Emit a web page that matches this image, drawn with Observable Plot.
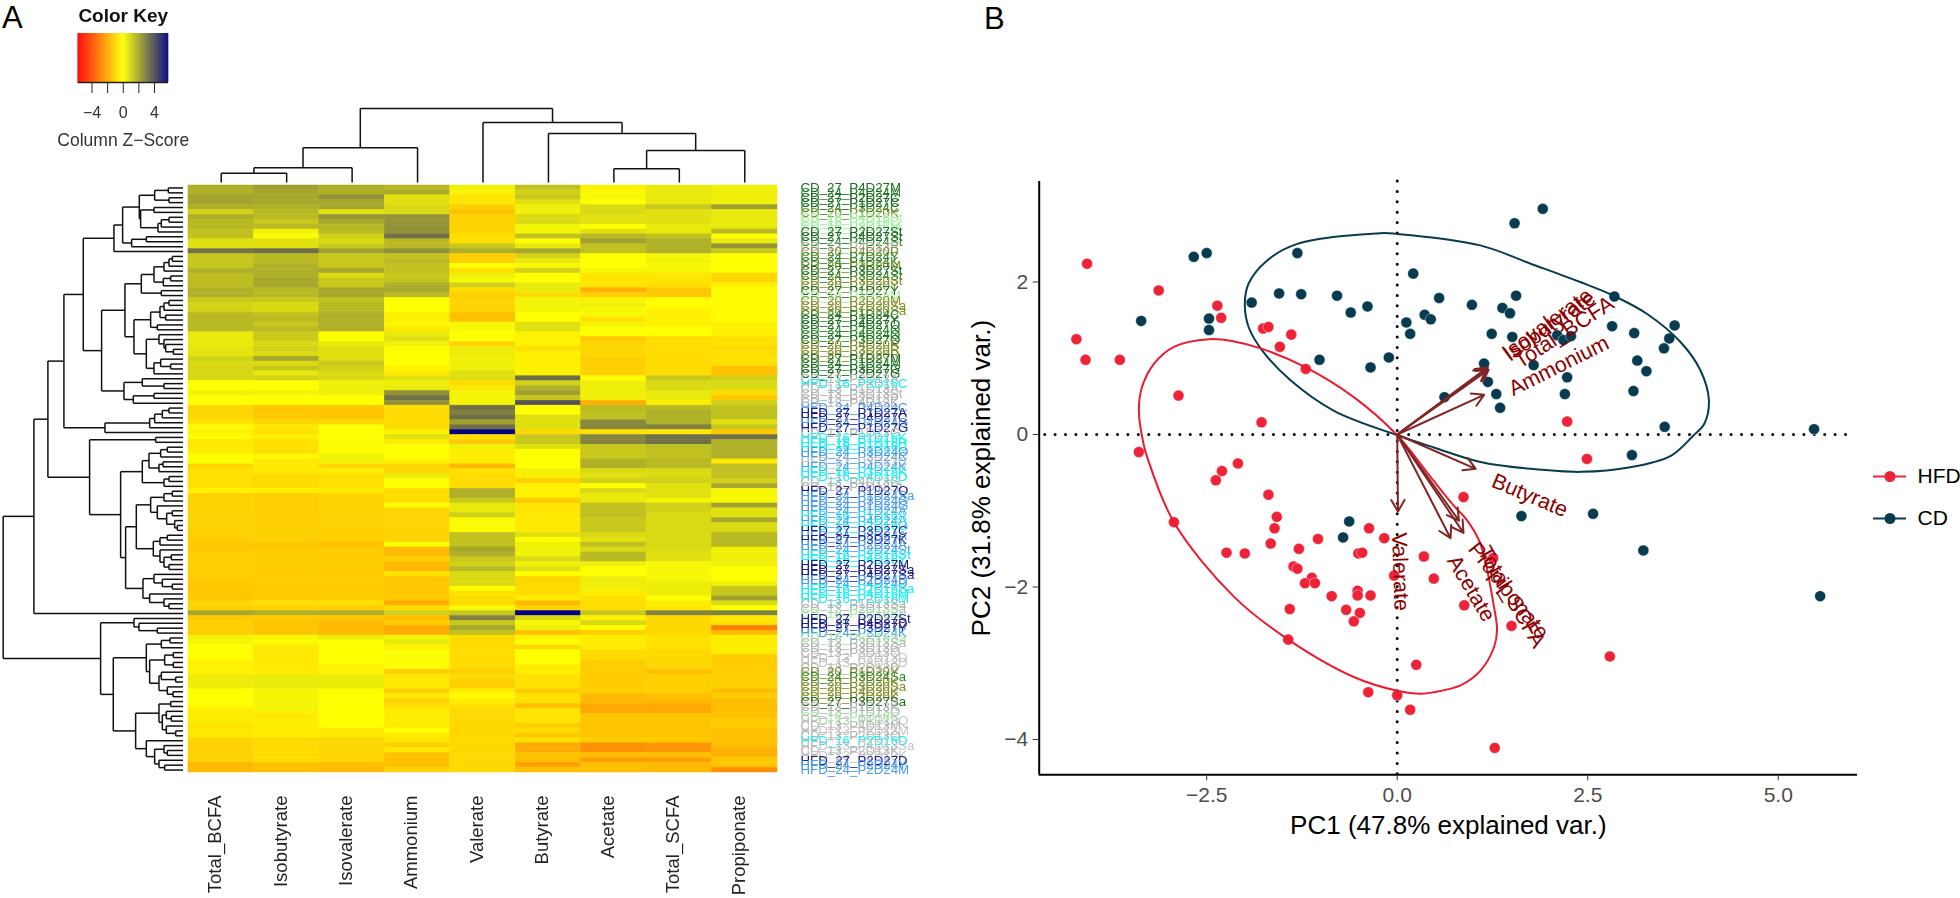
<!DOCTYPE html>
<html><head><meta charset="utf-8">
<script src="https://cdn.jsdelivr.net/npm/d3@7"></script>
<script src="https://cdn.jsdelivr.net/npm/@observablehq/plot@0.6"></script>
<style>
html,body{margin:0;padding:0;background:#fff}
#page{position:relative;width:1960px;height:898px;overflow:hidden;font-family:"Liberation Sans",Arial,sans-serif}
.panel{position:absolute;color:#000;font-weight:300}
</style></head><body><div id="page"></div>
<script>
// ---------- Heatmap data (column Z-scores, one array per column, 120 rows)
const columnNames = ["Total_BCFA","Isobutyrate","Isovalerate","Ammonium","Valerate","Butyrate","Acetate","Total_SCFA","Propiponate"];
const totalBCFA = [1.8,1.8,2.1,2.1,1.8,1.0,1.8,1.6,1.6,1.4,
1.4,.7,.7,3.2,1.3,1.3,1.3,1.8,1.5,1.5,
1.5,1.8,1.8,1.2,1.0,1.0,1.6,1.6,1.6,1.6,
.5,.5,.5,.6,.6,1.0,.9,.9,.9,.9,
0,0,.3,0,0,-.9,-.9,-.9,-.7,-.1,
-.3,-.1,-.5,-.5,-.4,0,0,-1,-.7,-.7,
-.7,-.7,-.3,-1,-1,-1,-1,-1,-1,-1,
-1,-1.1,-1.1,-1.25,-1.25,-1.1,-1.1,-1.1,-1.1,-1.1,
-1.15,-1.25,-1.25,-1.25,-1.25,-.9,-1.05,2,-1.2,-1.05,
-1.05,-1.15,.3,.15,0,0,0,-.3,-.3,-.3,
.4,.4,.4,0,0,0,-.1,-.4,-.4,-.4,
-.65,-.5,-.5,-.95,-1.05,-1.05,-1.05,-1.05,-1.6,-1.6];
const isobutyrate = [2.15,2,2,2,1.8,1.6,1.6,1.25,1.6,.3,
.1,.7,.7,3.3,1.6,1.6,1.8,1.8,1.8,2,
2,1.6,1.6,1.25,.85,.85,1.4,1.6,1.25,1.6,
1.2,1.2,.85,1.05,.85,2,.85,1.25,.5,1.05,
0,0,.25,0,0,-1.25,-1.25,-1.25,-.9,-.5,
-.7,-.35,-.7,-.7,-.7,-.15,-.5,-.5,-.5,-.8,
-.8,-.8,-.4,-1.07,-1.07,-1.07,-1.07,-1.07,-1.07,-1.07,
-1.07,-1.07,-1.07,-1.25,-1.16,-1.16,-1.16,-1.16,-1.16,-1.16,
-1.16,-1.16,-1.16,-1.16,-1.16,-.7,-.98,1.8,-1.25,-1.35,
-1.35,-1.35,.16,.1,-.5,-.5,-.5,-.5,-.5,-.5,
.45,.45,.45,.2,.2,.2,.2,.2,-.5,-.4,
-.4,-.4,-.4,-.9,-.8,-.8,-.8,-.8,-1.4,-1.4];
const isovalerate = [1.8,1.8,2.5,2,2,.7,2.4,2,1.6,1.6,
1.05,.85,1.25,2.15,1.25,1.25,1.25,2,.85,1.25,
1.25,2,2,1.4,1.6,1.6,1.8,1.8,1.8,1.8,
0,0,.5,.7,.7,.75,1.25,1.05,.85,.85,
.34,.34,.34,0,0,-1.3,-1.3,-1.3,-.9,0,
0,.05,.1,.1,.1,.3,.3,-.9,-.4,-.7,
-.7,-.7,-.4,-1,-1,-1,-1,-1,-1,-1,
-1,-1.07,-1.07,-1.43,-1.16,-1.16,-1.16,-1.16,-1.16,-1.16,
-1.16,-1.16,-1.16,-1.16,-1.16,-.68,-1.16,1.8,-1.25,-1.6,
-1.6,-1.6,.5,0,0,0,0,0,-.3,-.3,
.45,.45,.45,0,0,0,0,0,0,0,
0,-.5,-.5,-.9,-.9,-.9,-.9,-.9,-1.5,-1.5];
const ammonium = [1.6,1.9,.7,.7,.85,.85,2.4,2.4,2.5,2.5,
3.25,1.6,1.6,2.5,1.4,1.6,1.4,1.4,1.25,1.4,
1.8,2,1.6,0,0,0,-.3,-.3,.16,-.5,
.5,.7,.34,0,0,0,0,-.3,-.5,.7,
.34,.5,2.5,3.25,2.5,-.8,-.8,-.8,-.8,-.8,
-.3,.7,-.4,0,0,0,-.3,-.9,-.9,.5,
0,0,-.8,-.8,-.8,-.1,-.98,-.98,-.98,-.98,
-.98,-.98,-.98,0,-1.6,-1.6,-1.07,-1.6,-1.6,-.68,
-1.25,-1.25,-1.25,-1.25,-1.25,-1.9,-.8,1.05,-1.43,-1.16,
-1.9,-1.9,.25,.5,-.3,.1,.1,.1,.1,-1.07,
-.5,-.5,-.5,-1.07,-.5,-1.07,-.7,-.4,-.4,-.4,
-.4,0,-.5,-.5,-1.07,-.5,-1.43,-1.43,-1.43,-.98];
const valerate = [.34,.25,-.6,-.6,-1.07,-1.43,-1,-1,-1,-1,
-.75,-.75,1.25,1.8,-1.07,-1.07,0,-.68,.34,.16,
1.1,-.8,-1.07,-1,-1,-1,-1.43,-1.43,.16,.16,
0,0,-1,.4,.4,.34,.34,.34,.75,.75,
-.8,-.5,.25,.25,.25,3.25,2.9,3.25,2.15,3.25,
5.8,-.68,-1.25,.34,-.4,-.4,-.4,-1.6,-.68,-.8,
-.8,-.8,1.8,1.8,1.25,.5,.5,1.05,.1,.1,
.1,1.4,1.4,1.4,2,1.8,1.25,1.05,1.6,.85,
.85,.85,0,-.6,-.8,-.8,.16,1.25,2.9,1.25,
2,1.4,-.8,-.8,-.8,-.8,-.8,-.8,-.8,-1.07,
-.8,-1.07,-1.07,-.4,-.1,-.4,-.7,-.89,-.89,-.89,
-.89,-.89,-.89,-.89,-.89,-.89,-.89,-.89,-.89,-.89];
const butyrate = [1.43,1.05,1.25,.7,.34,.34,.85,.85,.25,.25,
1.43,0,.5,2,1.05,.5,.16,1.05,0,0,
.5,.5,-.8,.25,.25,.25,0,0,.7,.7,
-.3,-.3,-.3,-.7,-.3,-.3,-.3,-.3,-.3,3.3,
1.05,1.8,2.15,1.25,3.9,0,0,.7,.7,.7,
-.9,1.25,1.25,.7,0,0,0,0,.34,-.4,
-1.07,-.3,-.3,-.3,-1.25,-.6,-.6,-.5,-.5,-.5,
-.5,.7,0,.3,.3,.3,.85,.3,.7,0,
-.9,-.9,-.8,-.8,-.4,-1.6,-.98,5.8,.85,.16,
.34,-1.43,-.3,0,-.9,0,0,0,-.4,-.4,
-.68,-.68,-.68,-1.16,-.68,-.68,-1.43,-.6,-.6,-.6,
-1.16,-.8,-1.25,-.68,-1.9,-1.9,-1.43,-1.43,-2.15,-1.43];
const acetate = [-.3,.16,.16,0,.85,.85,.68,.68,0,.68,
1.6,2.15,1.43,1.43,0,0,0,.16,-.6,-.6,
-.6,-1.8,-1.07,-.3,.34,.16,.16,-.68,.25,0,
0,-1.25,-.9,-.9,-.9,-1.07,-1.07,-1.07,-1.07,0,
.34,.34,.34,.34,-1.8,1.6,1.43,1.43,2.7,2.7,
-.68,2.8,2.8,1.25,1.25,1.25,1.8,1.8,.85,.7,
1.05,0,.85,.5,.5,1.43,1.43,1.43,1.25,1.25,
1.25,.85,.68,1.43,.85,1.6,1.6,.34,0,0,
.4,.4,.34,-.4,-.68,-.75,-.75,1.25,-.3,.85,
0,-1.07,-.4,-.4,-.4,-.8,-.8,-1.16,-1.16,-1.16,
-1.16,-1.16,-1.16,-1.16,-1.6,-1.6,-1.98,-1.98,-1.35,-1.35,
-1.35,-1.35,-1.35,-1.16,-2.5,-2.5,-1.43,-2.2,-1.43,-1.43];
const totalSCFA = [.5,.5,.5,.5,1.25,.68,.68,.68,.5,.5,
1.43,1.8,1.8,1.8,.25,.25,.16,.16,-.6,-.6,
-.68,-1.25,-1.25,0,0,-.3,-.3,-.3,-.3,0,
0,-.8,-.8,-.8,-.8,-.8,-.8,-.8,-.8,1.25,
.85,.85,.5,.5,-.4,1.6,1.8,1.8,1.8,2.9,
-.5,3.25,3.25,1.43,1.43,1.43,1.6,1.6,.85,.85,
1.05,.68,.68,.68,.25,1.05,1.05,.85,.85,.85,
.85,.85,.85,.85,.85,.68,.68,.16,.16,.16,
.16,.4,.4,.4,0,-.4,-.6,2.8,-.89,-.89,
-.89,-.89,-.68,-.68,-.68,-.89,-.89,-.89,-.89,-1.43,
-1.07,-1.07,-1.07,-1.07,-1.43,-1.6,-1.98,-1.98,-1.35,-1.35,
-1.35,-1.35,-1.35,-1.16,-2.4,-2.4,-1.43,-2.15,-1.6,-1.6];
const propiponate = [.34,.34,.34,.34,2.15,.5,.5,.5,.5,1.6,
0,.5,2.4,1.25,0,0,0,0,-.9,-.9,
-.3,-.1,-.1,-.1,-.1,-.1,-.1,-.1,-.3,-.3,
-.3,-.68,-.68,-.89,-.68,-.68,-.68,-1.43,-1.43,1.05,
.85,.85,-.8,-1.25,1.05,1.43,1.43,1.43,.68,1.25,
-1.25,3.3,1.8,1.8,1.8,1.8,-.5,1.43,1.43,1.43,
1.05,2,.16,.16,.16,2.15,.68,.68,2,.85,
.85,1.6,1.6,1.6,.34,.34,.34,.34,0,0,
0,.34,1.25,1.25,2.15,.85,0,2.9,-.5,-.68,
-2.9,-1.6,-.4,-.4,-.4,-.4,-1.16,-1.16,-1.16,-1.16,
-1.07,-1.07,-1.07,-1.5,-1.16,-1.5,-1.5,-1.43,-1.43,-1.16,
-1.16,-1.43,-1.43,-1.43,-1.43,-1.8,-1.8,-1.25,-1.25,-2.5];
const heatColumns = [totalBCFA,isobutyrate,isovalerate,ammonium,valerate,butyrate,acetate,totalSCFA,propiponate];

const rowLabels = ["CD_27_P4D27M","CD_24_P4D24M","CD_27_P2D27C","CD_27_P1D27C","CD_24_P3D24C","CD_20_P1D20K","CD_16_P4D16St","CD_16_P2D16C","CD_16_P3D16M","CD_27_P2D27St",
"CD_27_P4D27St","CD_24_P4D24St","CD_13_P4D13P","CD_20_P4D20P","CD_24_P1D24Y","CD_24_P1D24K","CD_20_P3D20M","CD_27_P3D27St","CD_24_P3D24St","CD_20_P3D20St",
"CD_20_P2D20Y","CD_27_P1D27Y","CD_16_P1D16M","CD_20_P2D20M","CD_20_P2D20Sa","CD_20_P1D20Sa","CD_24_P1D24C","CD_27_P2D27Y","CD_27_P4D27Q","CD_24_P2D24Q",
"CD_24_P4D24Q","CD_27_P3D27Q","CD_20_P4D20R","CD_20_P3D20R","CD_20_P2D20R","CD_27_P1D27M","CD_24_P1D24M","CD_27_P3D27G","CD_27_P2D27G","CD_13_P3D13A",
"HFD_16_P3D16C","CD_13_P1D13A","CD_13_P3D13St","CD_13_P2D13P","CD_13_P4D13K","HFD_24_P4D24C","HFD_27_P1D27A","HFD_27_P4D27C","HFD_24_P4D24G","HFD_27_P1D27G",
"CD_13_P1D13G","HFD_16_P1D16K","HFD_16_P1D16R","HFD_16_P1D16C","HFD_24_P3D24Q","HFD_24_P3D24C","HFD_13_P3D13C","HFD_24_P4D24K","HFD_16_P3D16K","HFD_16_P4D16D",
"CD_13_P4D13G","CD_13_P1D13St","HFD_27_P1D27Q","HFD_24_P1D24Sa","HFD_24_P3D24G","HFD_24_P1D24G","HFD_24_P1D24A","HFD_16_P1D16A","HFD_24_P4D24A","HFD_16_P2D16G",
"HFD_27_P3D27C","HFD_24_P3D24A","HFD_27_P3D27K","HFD_24_P2D24A","HFD_24_P2D24St","HFD_16_P2D16St","HFD_16_P4D16Y","HFD_27_P2D27M","HFD_27_P1D27Sa","HFD_27_P4D27Sa",
"HFD_24_P2D24D","HFD_24_P4D24D","HFD_16_P2D16Sa","HFD_16_P4D16M","HFD_16_P2D16M","CD_13_P1D13Sa","CD_13_P2D13Sa","CD_16_P2D16St","HFD_27_P2D27St","HFD_27_P4D27D",
"HFD_27_P3D27Y","HFD_24_P3D24K","CD_16_P3D16Sa","CD_13_P3D13Sa","CD_13_P3D13G","CD_13_P3D13Q","HFD_13_P2D13D","HFD_13_P3D13D","CD_13_P2D13D","CD_20_P1D20Y",
"CD_24_P3D24Sa","CD_20_P2D20K","CD_20_P3D20Sa","CD_20_P4D20K","CD_20_P3D20K","CD_27_P3D27Sa","CD_13_P1D13K","CD_13_P1D13Q","CD_16_P1D16C","HFD_13_P1D13Q",
"CD_13_P4D13M","HFD_13_P2D13M","CD_13_P2D13Q","HFD_16_P2D16D","HFD_13_P4D13Sa","CD_13_P2D13K","HFD_13_P2D13K","HFD_27_P2D27D","HFD_24_P2D24Y","HFD_24_P2D24M"];
const labelGroupNames  = ["CD_13","CD_16","CD_20","CD_24","CD_27","HFD_13","HFD_16","HFD_24","HFD_27"];
const labelGroupColors = ["#b4b4b4","#a2f0a2","#84902c","#2c8a2c","#1d6a24","#c4c4c4","#14f4f4","#4a9cf6","#20208c"];

// ---------- Dendrograms: [merge height, left, right]; a number is a leaf
const columnTree = [74,[34.7,[14.7,[9.3,0,1],2],3],[60,4,[49,5,[32,[13.7,6,7],8]]]];
const rowF  = [207,[181,[131,[85,[44,0,1],[42,2,3]],[127,[87,4,5],[75,[65,[42,6,7],8],9]]],[154,[110,10,11],12]],13];
const rowO  = [125,[87,[57,[42,[32,14,15],16],17],[59,[37,18,19],20]],[65,21,22]];
const rowS  = [97,[69,[57,[42,23,24],25],[52,26,27]],[77,28,29]];
const rowT  = [110,[72,30,[57,31,[52,32,[29,33,34]]]],[87,[67,35,[37,36,37]],38]];
const rowN  = [177,[122,39,[57,40,41]],[149,[87,42,43],44]];
const rowE  = [234,[100,[85,[62,[42,45,46],47],48],49],50];
const rowZ  = [122,[102,[67,[47,53,54],55],[72,[60,56,57],58]],[57,[42,59,60],61]];
const rowAD = [97,[57,[32,62,63],64],[77,65,[49,[32,66,67],[25,68,[17,69,70]]]]];
const rowAE = [89,[69,[47,71,72],73],[69,74,[57,[35,75,76],[42,77,78]]]];
const rowAC = [120,[87,79,[62,80,[32,81,82]]],[100,83,[57,84,[42,85,86]]]];
const rowAF = [147,88,[132,89,[77,90,91]]];
const rowAH = [110,[65,[39,92,93],94],[100,[55,[29,95,96],[29,97,98]],[72,[65,99,[22,100,101]],[47,102,[30,103,104]]]]];
const rowAI = [142,[72,[37,105,106],[62,[50,107,[35,108,109]],[50,110,[22,111,112]]]],[110,113,[85,[57,114,[47,115,116]],[72,117,[55,118,119]]]]];
const rowTree = [539,
  [447,[405,
     [357,[299,rowF,[244,[174,rowO,[147,rowS,rowT]],rowN]],rowE],
     [280,[82,51,52],[187,rowZ,[172,[140,rowAD,rowAE],rowAC]]]],87],
  [247,rowAF,[209,rowAH,rowAI]]];

// ---------- PCA scores, ellipses and loadings (PC1, PC2)
const cdScores = [[-2.67,2.33],[-2.5,2.38],[-1.31,2.38],[-3.36,1.49],[.21,2.11],[-1.55,1.85],[-1.26,1.84],[-.79,1.82],[-1.91,1.73],[-.39,1.68],[-.61,1.6],[.55,1.79],[.98,1.7],[.36,1.57],[.44,1.51],[.12,1.47],[.17,1.32],[-2.47,1.52],[-2.47,1.37],[-1.02,.98],[-.11,1.01],[-.35,.88],[.62,.49],[1.14,.93],
[1.91,2.96],[1.54,2.77],[1.56,1.82],[1.38,1.66],[1.48,1.59],[1.24,1.32],[1.51,1.28],[2.1,1.3],[2.18,1.24],[2.28,1.29],[1.79,.91],[1.19,.69],[1.3,.53],[1.35,.35],[2.23,.75],[2.2,.53],[2.85,1.81],[2.82,1.42],[3.11,1.33],[3.15,.97],[3.27,.83],[3.1,.57],[3.5,1.13],[3.57,1.26],[3.64,1.43],[3.51,.1],[3.08,-.27],[5.47,.07],
[-.63,-1.14],[-.71,-1.35],[1.63,-1.07],[2.57,-1.04],[3.23,-1.52],[5.55,-2.12]];
const hfdScores = [[-4.07,2.24],[-3.13,1.89],[-2.36,1.69],[-2.31,1.53],[-4.21,1.25],[-4.09,.98],[-3.64,.98],[-2.87,.51],[-1.78,.16],[-1.76,1.39],[-1.69,1.41],[-1.39,1.31],[-1.54,1.15],[-1.2,.86],[2.23,.17],[2.49,-.32],
[-3.39,-.23],[-2.09,-.38],[-2.3,-.48],[-2.38,-.6],[-1.69,-.79],[-1.58,-1.08],[-1.61,-1.23],[-2.93,-1.15],[-1.66,-1.43],[-2.24,-1.55],[-2,-1.56],[-1.29,-1.5],[-1.04,-1.37],[-.37,-1.23],[-.17,-1.36],[.87,-.82],[-1.36,-1.73],[-1.31,-1.76],[-1.12,-1.88],[-1.21,-1.95],[-1.08,-1.95],[-.51,-1.56],[-.46,-1.55],[-.52,-2.05],[-.52,-2.11],[-.35,-2.11],[-.86,-2.12],[-.04,-1.85],[.35,-1.6],[.48,-1.89],[.88,-2.24],[-1.41,-2.29],[-.67,-2.3],[-.49,-2.34],[-.57,-2.45],[-1.43,-2.69],[.25,-3.02],[-.38,-3.38],[0,-3.42],[.17,-3.61],
[1.26,-1.62],[1.5,-2.51],[2.79,-2.91],[1.28,-4.11]];
const cdEllipse = [[-.22,2.64],[0,2.63],[1.09,2.48],[1.75,2.24],[2.4,2],[2.84,1.82],[3.28,1.58],[3.72,1.21],[3.98,.84],[4.09,.45],[4.03,.14],[3.89,-.01],[3.59,-.28],[3.06,-.43],[2.41,-.49],[1.75,-.45],[1.09,-.36],[.48,-.17],[0,-.01],[-.83,.31],[-1.4,.71],[-1.77,1.1],[-1.95,1.41],[-2,1.71],[-1.95,1.98],[-1.71,2.28],[-1.31,2.5]];
const hfdEllipse = [[-2.47,1.25],[-2.14,1.22],[-1.79,1.13],[-1.2,.88],[-.57,.49],[0,-.01],[.44,-.56],[.74,-.93],[.92,-1.13],[1.09,-1.43],[1.27,-2.26],[1.31,-2.57],[1.27,-2.79],[1.09,-3.1],[.83,-3.29],[.48,-3.38],[.31,-3.4],[0,-3.36],[-.57,-3.18],[-1.43,-2.69],[-2.14,-2.13],[-2.93,-1.15],[-3.28,-.3],[-3.33,-.12],[-3.39,.31],[-3.35,.62],[-3.19,.93],[-2.93,1.15]];
const loadingNames = ["Isobutyrate","Isovalerate","Total_BCFA","Ammonium","Butyrate","Valerate","Acetate","Propiponate","Total_SCFA"];
const loadingX = [1.17,1.19,1.2,1.14,1.03,.01,.7,.87,.81];
const loadingY = [.86,.88,.85,.52,-.45,-1.01,-1.36,-1.29,-1.13];
const labelX   = [2,1.97,2.19,2.12,1.74,.04,.97,1.46,1.5];
const labelY   = [1.42,1.45,1.34,.9,-.8,-1.8,-2.02,-2.05,-2.13];
const labelRot = [-35,-36,-33,-26.6,23,88,59,52,60];
const pcaGroups = ["HFD","CD"];
const pcaColors = ["#ee2338","#073c50"];

// ---------- Helpers
const page = document.getElementById("page");
const FONT = '"Liberation Sans",Arial,sans-serif';
const place = (left, top, extra={}) => ({position:"absolute", left:left+"px", top:top+"px", background:"transparent", fontFamily:FONT, overflow:"visible", ...extra});
function treeSegments(tree){
  const segs = [];
  (function walk(n){
    if (typeof n === "number") return {p:n+.5, h:0};
    const a = walk(n[1]), b = walk(n[2]), h = n[0];
    segs.push({p1:a.p,h1:a.h,p2:a.p,h2:h},{p1:b.p,h1:b.h,p2:b.p,h2:h},{p1:a.p,h1:h,p2:b.p,h2:h});
    return {p:(a.p+b.p)/2, h};
  })(tree);
  return segs;
}
const colorScale = {type:"linear", domain:[-5.8,0,5.8], range:["red","yellow","navy"], interpolate:"rgb"};

// ---------- Colour key
const keyLevels = d3.range(-5.8,5.8,.04);
page.append(Plot.plot({
  width:170, height:160, marginLeft:37.5, marginRight:42, marginTop:33, marginBottom:78,
  style:place(40,0,{filter:"blur(0.4px)"}),
  x:{domain:[-5.8,5.8]}, y:{domain:[0,1],axis:null}, color:colorScale,
  marks:[
    Plot.rect(keyLevels,{x1:d=>d,x2:d=>d+.08,y1:0,y2:1,fill:d=>d}),
    Plot.ruleY([0],{stroke:"#222",strokeWidth:1.5}),
    Plot.axisX({ticks:[-4,-2,0,2,4],tickFormat:d=>d%4===0?d3.format("d")(d):"",tickSize:11,tickPadding:13,fontSize:16,stroke:"#222",fill:"#333",label:null}),
    Plot.text(["Color Key"],{frameAnchor:"top",lineAnchor:"middle",dy:-18,fontSize:19,fontWeight:"bold",fill:"#111"}),
    Plot.text(["Column Z\u2212Score"],{frameAnchor:"bottom",lineAnchor:"middle",dy:58,fontSize:17.5,fill:"#333"})
  ]}));

// ---------- Column dendrogram
page.append(Plot.plot({
  width:589, height:80, marginLeft:0, marginRight:0, marginTop:5, marginBottom:1,
  style:place(188,103,{filter:"blur(0.4px)"}),
  x:{domain:[0,9],axis:null}, y:{domain:[0,74],axis:null},
  marks:[Plot.link(treeSegments(columnTree),{x1:"p1",x2:"p2",y1:"h1",y2:"h2",stroke:"#111",strokeWidth:1.5})]}));

// ---------- Row dendrogram
page.append(Plot.plot({
  width:185, height:587, marginLeft:2.7, marginRight:2.5, marginTop:0, marginBottom:0,
  style:place(0,185,{filter:"blur(0.4px)"}),
  x:{domain:[539,0],axis:null}, y:{domain:[120,0],axis:null},
  marks:[Plot.link(treeSegments(rowTree),{x1:"h1",x2:"h2",y1:"p1",y2:"p2",stroke:"#111",strokeWidth:1.5})]}));

// ---------- Heatmap with row and column labels
const heatCells = heatColumns.flatMap((col,c)=>col.map((z,r)=>({col:columnNames[c],row:r,z})));
const groupColor = Object.fromEntries(labelGroupNames.map((g,i)=>[g,labelGroupColors[i]]));
const labelRows = rowLabels.map((name,row)=>({name,row,color:groupColor[name.split("_").slice(0,2).join("_")]}));
page.append(Plot.plot({
  width:730, height:713, marginLeft:0, marginRight:141, marginTop:0, marginBottom:126,
  style:place(188,185,{filter:"blur(0.45px)"}),
  x:{domain:columnNames,padding:0,round:false,axis:null},
  y:{domain:d3.range(120),padding:0,round:false,axis:null},
  color:colorScale,
  marks:[
    Plot.cell(heatCells,{x:"col",y:"row",fill:"z",stroke:"z",strokeWidth:.5}),
    Plot.text(labelRows,{x:()=>columnNames[8],y:"row",text:"name",fill:d=>d.color,dx:55.7,textAnchor:"start",fontSize:13.3}),
    Plot.text(columnNames,{x:d=>d,frameAnchor:"bottom",lineAnchor:"middle",dy:23,dx:-6,rotate:-90,textAnchor:"end",fontSize:18.5,fill:"#222"})
  ]}));

// ---------- PCA biplot
const pcaX = {domain:[-4.698,6.04],axis:null};
const pcaY = {domain:[-4.463,3.318],axis:null};
const loadings = loadingNames.map((name,i)=>({name,x:loadingX[i],y:loadingY[i],lx:labelX[i],ly:labelY[i],rot:labelRot[i]}));
page.append(Plot.plot({
  width:910, height:690, marginLeft:78.7, marginRight:13, marginTop:11, marginBottom:85.7,
  style:place(960,170),
  x:pcaX, y:pcaY,
  marks:[
    Plot.ruleY([0],{stroke:"#000",strokeWidth:3,strokeDasharray:"0,10.4",strokeLinecap:"round",insetLeft:6,insetRight:6}),
    Plot.ruleX([0],{stroke:"#000",strokeWidth:3,strokeDasharray:"0,10.4",strokeLinecap:"round"}),
    Plot.dot(cdScores,{x:d=>d[0],y:d=>d[1],r:5.5,fill:pcaColors[1],stroke:"#fff",strokeWidth:.4}),
    Plot.dot(hfdScores,{x:d=>d[0],y:d=>d[1],r:5.5,fill:pcaColors[0],stroke:"#fff",strokeWidth:.4}),
    Plot.line(cdEllipse,{x:d=>d[0],y:d=>d[1],stroke:pcaColors[1],strokeWidth:2,curve:"catmull-rom-closed"}),
    Plot.line(hfdEllipse,{x:d=>d[0],y:d=>d[1],stroke:"#ea1c30",strokeWidth:2,curve:"catmull-rom-closed"}),
    Plot.arrow(loadings,{x1:()=>0,y1:()=>0,x2:"x",y2:"y",stroke:"#832424",strokeWidth:2,headLength:10,headAngle:60,bend:0}),
    Plot.text(loadings,{x:"lx",y:"ly",text:"name",rotate:"rot",fill:"#8b0000",fontSize:21.5}),
    Plot.ruleX([-4.698],{stroke:"#000",strokeWidth:2}),
    Plot.ruleY([-4.463],{stroke:"#000",strokeWidth:2}),
    Plot.axisX({ticks:[-2.5,0,2.5,5],tickFormat:d3.format(".1f"),tickSize:6,tickPadding:6,fontSize:21,stroke:"#333",fill:"#4d4d4d",label:null}),
    Plot.axisY({ticks:[-4,-2,0,2],tickFormat:d3.format("d"),tickSize:6,tickPadding:5,fontSize:21,stroke:"#333",fill:"#4d4d4d",label:null}),
    Plot.text(["PC1 (47.8% explained var.)"],{frameAnchor:"bottom",lineAnchor:"middle",dy:50.7,fontSize:26,fill:"#000"}),
    Plot.text(["PC2 (31.8% explained var.)"],{frameAnchor:"left",textAnchor:"middle",lineAnchor:"middle",dx:-57.7,rotate:-90,fontSize:26,fill:"#000"})
  ]}));

// ---------- Biplot legend
const legendColor = Object.fromEntries(pcaGroups.map((g,i)=>[g,pcaColors[i]]));
page.append(Plot.plot({
  width:100, height:100, marginLeft:0, marginRight:0, marginTop:0, marginBottom:0,
  style:place(1860,450,{overflow:"hidden"}),
  x:{domain:[0,44],range:[13,57],axis:null}, y:{domain:pcaGroups,range:[25.7,68],type:"point",padding:0,axis:null},
  color:{type:"identity"},
  marks:[
    Plot.ruleY(pcaGroups,{y:d=>d,x1:()=>0,x2:()=>33,stroke:d=>legendColor[d],strokeWidth:2}),
    Plot.dot(pcaGroups,{y:d=>d,x:()=>16.5,r:5.5,fill:d=>legendColor[d]}),
    Plot.text(pcaGroups,{y:d=>d,x:()=>44,text:d=>d,textAnchor:"start",fontSize:21,fill:"#000"})
  ]}));

// ---------- Panel letters
[["A",2,1,31],["B",984,2,31]].forEach(([t,l,top,size])=>{
  const d=document.createElement("div");d.className="panel";d.textContent=t;
  d.style.cssText=`left:${l}px;top:${top}px;font-size:${size}px;line-height:1.1;`;page.append(d);
});
</script></body></html>
